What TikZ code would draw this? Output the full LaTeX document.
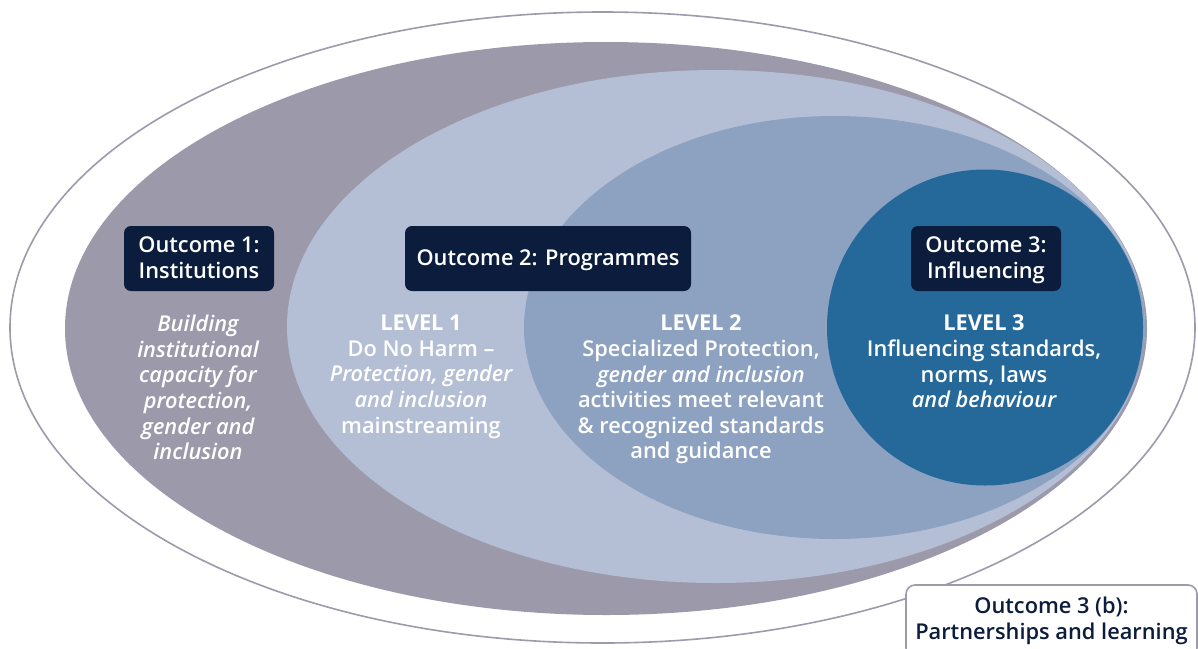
\documentclass[tikz,border=0pt]{standalone}
\usepackage{fontspec}
% semibold text face, with a fallback to an emboldened regular face
\IfFontExistsTF{Open Sans Semibold}{%
  \IfFontExistsTF{Open Sans Semibold Italic}{%
    \setmainfont{Open Sans Semibold}[BoldFont={Open Sans Bold},ItalicFont={Open Sans Semibold Italic}]}{%
    \setmainfont{Open Sans Semibold}[BoldFont={Open Sans Bold},ItalicFont={Open Sans Italic},ItalicFeatures={FakeBold=2}]}%
}{%
  \setmainfont{Open Sans}[UprightFeatures={FakeBold=2.5},ItalicFeatures={FakeBold=2.5}]%
}
\definecolor{ringline}{HTML}{9D9AAB}
\definecolor{outcomegray}{HTML}{9C99AB}
\definecolor{levelone}{HTML}{B4BFD5}
\definecolor{leveltwo}{HTML}{8DA1C1}
\definecolor{levelthree}{HTML}{25689A}
\definecolor{navy}{HTML}{0B1C3C}
\begin{document}
\begin{tikzpicture}[x=1pt,y=-1pt,
  font=\fontsize{21.8}{25.6}\selectfont,
  outcomebox/.style={fill=navy, text=white, rounded corners=7pt, align=center,
    inner sep=0pt, minimum height=65pt, text depth=1.5pt},
  bodytext/.style={text=white, align=center, anchor=north, inner sep=0pt},
  ]
\clip (0,0) rectangle (1198,648);
\fill[white] (0,0) rectangle (1198,648);

% nested rings, all touching on the right
\draw[ringline, line width=1.6pt, fill=white] (602.5,327.5) ellipse [x radius=592.5pt, y radius=315.5pt];
\fill[outcomegray] (606,328.5) ellipse [x radius=541pt, y radius=286.5pt];
\fill[levelone] (716,326.5) ellipse [x radius=429pt, y radius=256.5pt];
\fill[leveltwo] (834.5,327.5) ellipse [x radius=310.5pt, y radius=211.5pt];
\fill[levelthree] (985,327.5) circle [radius=158pt];

% outcome labels
\node[outcomebox, minimum width=150pt] (o1) at (199,258.5) {Outcome 1:\\Institutions};
\node[outcomebox, minimum width=286pt] (o2) at (548,258.5) {Outcome 2: Programmes};
\node[outcomebox, minimum width=150pt] (o3) at (986,258.5) {Outcome 3:\\Influencing};

% descriptions
\node[bodytext] (t1) at (198,315) {\itshape Building\\\itshape institutional\\\itshape capacity for\\\itshape protection,\\\itshape gender and\\\itshape inclusion};
\node[bodytext] (t2) at (421,315) {\bfseries LEVEL 1\\Do No Harm --\\\itshape Protection, gender\\\itshape and inclusion\\mainstreaming};
\node[bodytext] (t3) at (701,315) {\bfseries LEVEL 2\\Specialized Protection,\\\itshape gender and inclusion\\activities meet relevant\\\& recognized standards\\and guidance};
\node[bodytext] (t4) at (984,315) {\bfseries LEVEL 3\\Influencing standards,\\norms, laws\\\itshape and behaviour};

% partnerships tab at the lower right
\node[draw=ringline, line width=1.6pt, fill=white, rounded corners=9pt, text=navy,
  align=center, inner sep=0pt, minimum width=291pt, minimum height=72pt]
  (o3b) at (1051.5,621) {Outcome 3 (b):\\Partnerships and learning};
\end{tikzpicture}
\end{document}
